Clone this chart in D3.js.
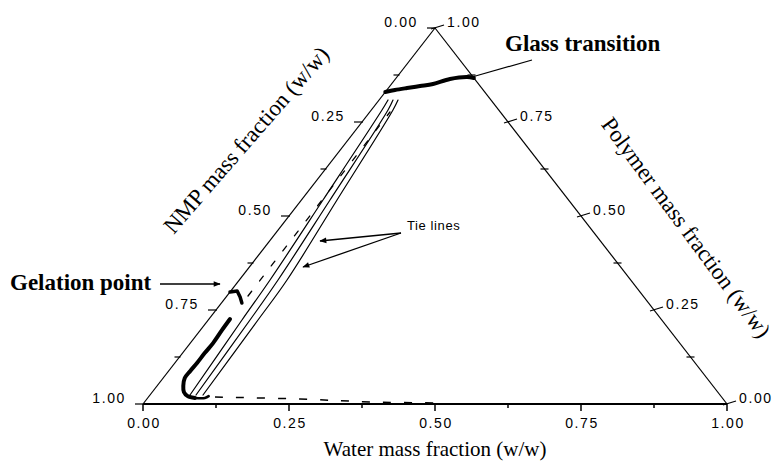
<!DOCTYPE html>
<html><head><meta charset="utf-8">
<script src="https://cdn.jsdelivr.net/npm/d3@7"></script>
<style>
html,body{margin:0;padding:0;background:#fff;}
svg{display:block;}
</style></head><body>
<svg id="chart" width="776" height="476"></svg>
<script>
// Ternary compositions are stored as [water, polymer]; NMP = 1 - water - polymer.
const axisTicks = [0, 0.125, 0.25, 0.375, 0.5, 0.625, 0.75, 0.875, 1];
const labelValues = [0, 0.25, 0.5, 0.75, 1];
const labelText = ["0.00", "0.25", "0.50", "0.75", "1.00"];

// Cloud-point (binodal) branch, drawn heavy
const binodalHeavy = [[0.036,0.226],[0.037,0.197],[0.039,0.162],[0.038,0.136],[0.038,0.109],
  [0.037,0.088],[0.037,0.069],[0.045,0.048],[0.054,0.032],[0.066,0.021],[0.081,0.016]];
const binodalTail = [[0.081,0.016],[0.098,0.016],[0.102,0.021]];
// Gelation point marker
const gelation = [[0.000,0.298],[0.011,0.3005],[0.024,0.2846],[0.035,0.2686]];
// Extension of the cloud-point curve above the gelation point
const binodalDashed = [[0.0362,0.2872],[0.0346,0.7766]];
// Tie lines
const tieLineA = [[0.0685,0.0239],[0.0578,0.2234],[0.0526,0.3298],[0.0369,0.5426],[0.0183,0.7819],[0.0153,0.8085]];
const tieLineB = [[0.0788,0.0239],[0.0715,0.2234],[0.0663,0.3298],[0.0489,0.5426],[0.0286,0.7819],[0.0238,0.8085]];
const tieLineC = [[0.0908,0.0239],[0.0852,0.2234],[0.0817,0.3298],[0.0609,0.5426],[0.0371,0.7819],[0.0324,0.8085]];
// Polymer-lean side near the water-NMP axis
const leanDashed = [[0.114,0.0186],[0.262,0.0133],[0.391,0.0053],[0.516,0.0027]];
// Glass transition boundary
const glassTransition = [[0.000,0.8298],[0.0139,0.8351],[0.0319,0.8404],[0.0515,0.8457],
  [0.0711,0.8511],[0.0935,0.8644],[0.120,0.8697],[0.133,0.867]];

const svg = d3.select("#chart");
const xs = d3.scaleLinear().domain([0, 1]).range([143, 727]);
const ys = d3.scaleLinear().domain([0, 1]).range([404, 28]);
const proj = ([w, p]) => [xs(w + p / 2), ys(p)];
const line = d3.line().x(d => proj(d)[0]).y(d => proj(d)[1]);
const smooth = d3.line().x(d => proj(d)[0]).y(d => proj(d)[1]).curve(d3.curveCatmullRom);

const defs = svg.append("defs");
defs.append("marker").attr("id", "arrow").attr("viewBox", "0 0 10 10")
  .attr("refX", 9).attr("refY", 5).attr("markerWidth", 9).attr("markerHeight", 7)
  .attr("markerUnits", "userSpaceOnUse").attr("orient", "auto")
  .append("path").attr("d", "M0,1L10,5L0,9Z").attr("fill", "#000");

// Triangle edges
const g = svg.append("g").attr("stroke", "#000").attr("fill", "none");
g.append("path").attr("d", line([[0,0],[0,1]])).attr("stroke-width", 1.2);
g.append("path").attr("d", line([[1,0],[0,1]])).attr("stroke-width", 1.2);
g.append("path").attr("d", line([[0,0],[1,0]])).attr("stroke-width", 2);

const isMajor = t => Math.abs(t * 4 - Math.round(t * 4)) < 1e-9;

// Water axis ticks (bottom)
axisTicks.forEach(t => {
  const [x, y] = proj([t, 0]);
  g.append("line").attr("x1", x).attr("x2", x).attr("y1", y).attr("y2", y + (isMajor(t) ? 7 : 4))
    .attr("stroke-width", 1.5);
});
// NMP axis ticks (left edge)
axisTicks.forEach(t => {
  const [x, y] = proj([0, 1 - t]);
  g.append("line").attr("x1", x + 1).attr("x2", x - (isMajor(t) ? 8 : 5)).attr("y1", y).attr("y2", y)
    .attr("stroke-width", 1.2);
});
// Polymer axis ticks (right edge)
axisTicks.forEach(t => {
  const [x, y] = proj([1 - t, t]);
  g.append("line").attr("x1", x - 4).attr("x2", x + (isMajor(t) ? 9 : 4)).attr("y1", y + (isMajor(t) ? 1 : 0))
    .attr("y2", y - (isMajor(t) ? 3 : 0)).attr("stroke-width", 1.2);
});

const tickFont = sel => sel.attr("font-family", "'Liberation Sans', Arial, sans-serif")
  .attr("font-size", 14).attr("letter-spacing", 1.6).attr("fill", "#000");

labelValues.forEach((v, i) => {
  const [bx] = proj([v, 0]);
  svg.append("text").call(tickFont).attr("x", bx + 1).attr("y", 428)
    .attr("text-anchor", "middle").text(labelText[i]);
  const [lx, ly] = proj([0, 1 - v]);
  svg.append("text").call(tickFont).attr("x", lx - 17).attr("y", ly - 1)
    .attr("text-anchor", "end").text(labelText[i]);
  const [rx, ry] = proj([1 - v, v]);
  svg.append("text").call(tickFont).attr("x", rx + 12).attr("y", ry - 1)
    .attr("text-anchor", "start").text(labelText[i]);
});

// Data curves
const d = svg.append("g").attr("fill", "none").attr("stroke", "#000")
  .attr("stroke-linecap", "round").attr("stroke-linejoin", "round");
[tieLineA, tieLineB, tieLineC].forEach(tl => d.append("path").attr("d", smooth(tl)).attr("stroke-width", 1.2));
d.append("path").attr("d", line(binodalDashed)).attr("stroke-width", 1.3).attr("stroke-dasharray", "6,13");
d.append("path").attr("d", smooth(leanDashed)).attr("stroke-width", 1.5).attr("stroke-dasharray", "8,13")
  .attr("stroke-linecap", "butt");
d.append("path").attr("d", smooth(binodalHeavy)).attr("stroke-width", 4);
d.append("path").attr("d", smooth(binodalTail)).attr("stroke-width", 2.5);
d.append("path").attr("d", line(gelation)).attr("stroke-width", 3.5);
d.append("path").attr("d", smooth(glassTransition)).attr("stroke-width", 4);

// Axis titles
const serif = "'Liberation Serif', 'Times New Roman', serif";
svg.append("text").attr("transform", "translate(252,145) rotate(-49)").attr("text-anchor", "middle")
  .attr("font-family", serif).attr("font-size", 23).text("NMP mass fraction (w/w)");
svg.append("text").attr("transform", "translate(680,232) rotate(53.5)").attr("text-anchor", "middle")
  .attr("font-family", serif).attr("font-size", 23).text("Polymer mass fraction (w/w)");
svg.append("text").attr("x", 435).attr("y", 456).attr("text-anchor", "middle")
  .attr("font-family", serif).attr("font-size", 21).text("Water mass fraction (w/w)");

// Annotations
svg.append("text").attr("x", 10).attr("y", 290).attr("font-family", serif).attr("font-weight", "bold")
  .attr("font-size", 23).text("Gelation point");
svg.append("line").attr("x1", 160).attr("y1", 284).attr("x2", 220).attr("y2", 284)
  .attr("stroke", "#000").attr("stroke-width", 1.3).attr("marker-end", "url(#arrow)");

svg.append("text").attr("x", 505).attr("y", 51).attr("font-family", serif).attr("font-weight", "bold")
  .attr("font-size", 23).text("Glass transition");
svg.append("line").attr("x1", 532).attr("y1", 60).attr("x2", 472).attr("y2", 77)
  .attr("stroke", "#000").attr("stroke-width", 1.2);

svg.append("text").attr("x", 407).attr("y", 230).attr("font-family", "'Liberation Sans', Arial, sans-serif")
  .attr("font-size", 13).attr("letter-spacing", 0.6).text("Tie lines");
[[320, 241], [303, 267]].forEach(([x, y]) => {
  svg.append("line").attr("x1", 401).attr("y1", 233).attr("x2", x).attr("y2", y)
    .attr("stroke", "#000").attr("stroke-width", 1.3).attr("marker-end", "url(#arrow)");
});
</script>
</body></html>
